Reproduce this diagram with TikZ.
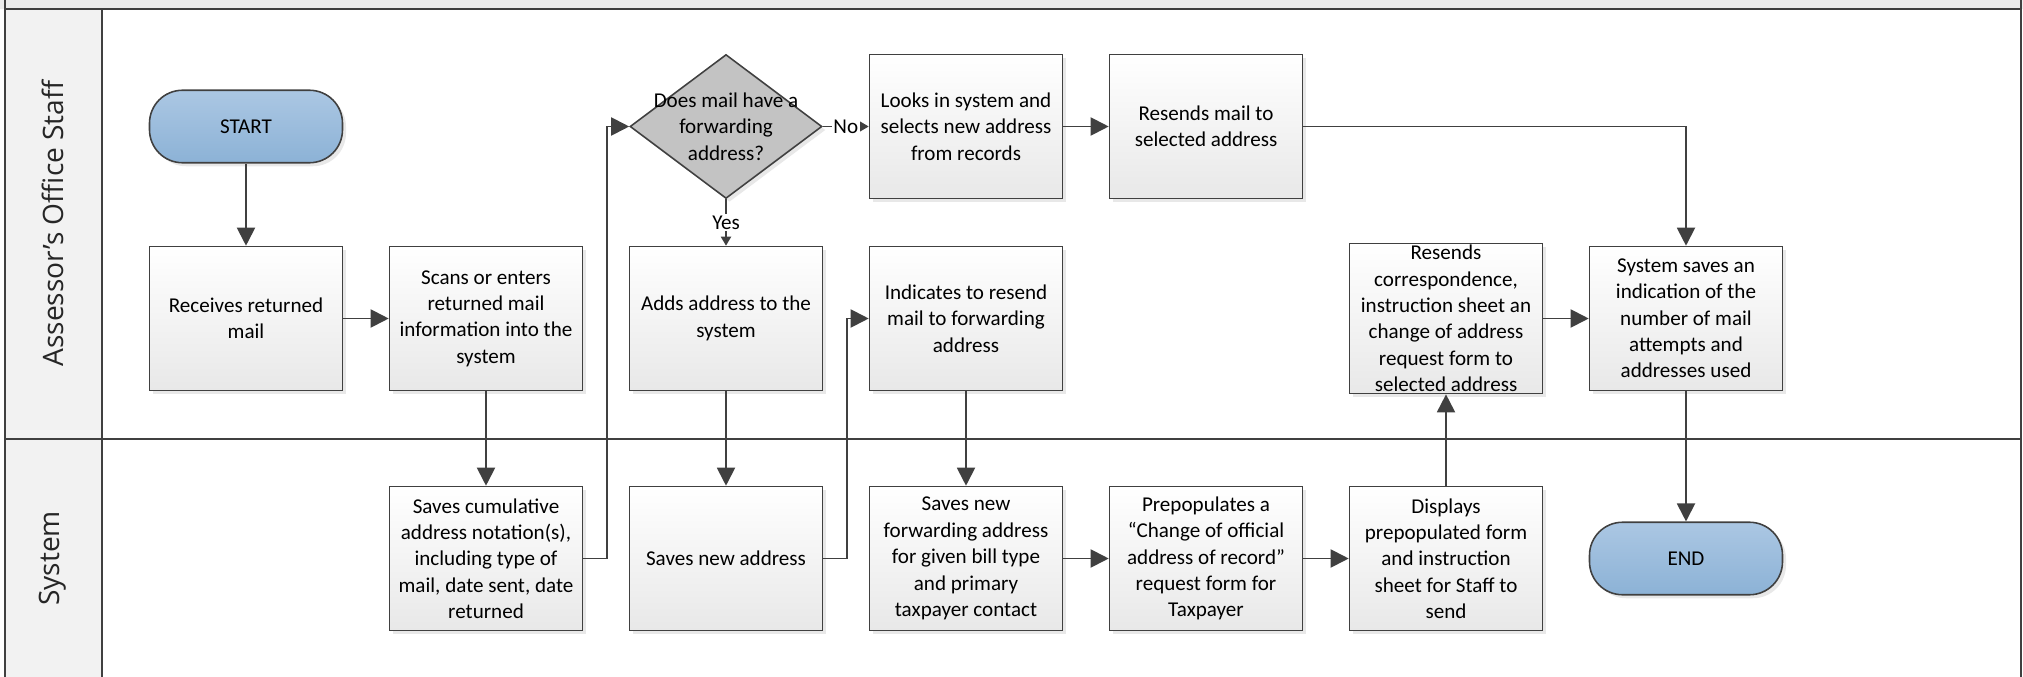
\documentclass[tikz,border=0pt]{standalone}
\usepackage{fontspec}
\setmainfont{Carlito}
\newfontfamily\lanefont{Open Sans}
\usepackage{tikz}
\usetikzlibrary{arrows.meta,shapes.geometric,shadows}

\definecolor{edge}{HTML}{404040}
\definecolor{lanebg}{HTML}{F2F2F2}
\definecolor{termtop}{HTML}{ABC7E3}
\definecolor{termbot}{HTML}{8CB2D6}
\definecolor{decfill}{HTML}{C3C3C3}

\begin{document}
\begin{tikzpicture}[
        font=\fontsize{12}{15}\selectfont,
        shade/.style={drop shadow={opacity=0.18, shadow xshift=0.07cm, shadow yshift=-0.07cm}},
        proc/.style={draw=edge, line width=0.9pt, top color=white, bottom color=black!9, shade,
            minimum width=3.86cm, minimum height=2.88cm, align=center, inner sep=1pt},
        term/.style={draw=edge, line width=0.9pt, top color=termtop, bottom color=termbot, shade,
            rounded corners=0.66cm, minimum width=3.86cm, minimum height=1.45cm},
        dec/.style={diamond, draw=edge, line width=0.9pt, fill=decfill, shade,
            minimum width=3.84cm, minimum height=2.88cm, inner sep=0pt},
        flow/.style={draw=edge, line width=1.1pt, -{Triangle[length=0.36cm,width=0.36cm]}},
        flowsmall/.style={draw=edge, line width=1.1pt, -{Triangle[length=0.18cm,width=0.2cm]}},
        lbl/.style={fill=white, inner sep=1pt, pos=0.5, anchor=center},
        lane/.style={font=\lanefont\fontsize{16}{19}\selectfont, text=black!85, rotate=90}]
        \useasboundingbox (0,0) rectangle (40.46,-13.54);
        \fill [black!7] (0,0) rectangle (40.46,-0.18);
        \fill [lanebg] (0.10,-0.18) rectangle (2.04,-13.54);
        \draw [edge, line width=1.1pt] (0.10,0) -- (0.10,-13.54);
        \draw [edge, line width=1.1pt] (40.42,0) -- (40.42,-13.54);
        \draw [edge, line width=1.1pt] (0.10,-0.18) -- (40.42,-0.18);
        \draw [edge, line width=1.1pt] (0.10,-8.78) -- (40.42,-8.78);
        \draw [edge, line width=1.1pt] (2.04,-0.18) -- (2.04,-13.54);
        \node [lane] (stafflane) at (1.05,-4.47) {Assessor’s Office Staff};
        \node [lane] (systemlane) at (1.05,-11.17) {System};

        \node [term] (start) at (4.92,-2.53) {START};
        \node [proc] (recv) at (4.92,-6.37) {Receives returned\\mail};
        \node [proc] (scan) at (9.72,-6.37) {Scans or enters\\returned mail\\information into the\\system};
        \node [dec, label={[align=center]center:Does mail have a\\forwarding\\address?}] (fwdq) at (14.52,-2.53) {};
        \node [proc] (lookup) at (19.32,-2.53) {Looks in system and\\selects new address\\from records};
        \node [proc] (resend) at (24.12,-2.53) {Resends mail to\\selected address};
        \node [proc] (addaddr) at (14.52,-6.37) {Adds address to the\\system};
        \node [proc] (indic) at (19.32,-6.37) {Indicates to resend\\mail to forwarding\\address};
        \node [proc] (corresp) at (28.92,-6.37) {Resends\\correspondence,\\instruction sheet an\\change of address\\request form to\\selected address};
        \node [proc] (attempts) at (33.72,-6.37) {System saves an\\indication of the\\number of mail\\attempts and\\addresses used};
        \node [proc] (savecum) at (9.72,-11.17) {Saves cumulative\\address notation(s),\\including type of\\mail, date sent, date\\returned};
        \node [proc] (savenew) at (14.52,-11.17) {Saves new address};
        \node [proc] (savefwd) at (19.32,-11.17) {Saves new\\forwarding address\\for given bill type\\and primary\\taxpayer contact};
        \node [proc] (prepop) at (24.12,-11.17) {Prepopulates a\\“Change of official\\address of record”\\request form for\\Taxpayer};
        \node [proc] (display) at (28.92,-11.17) {Displays\\prepopulated form\\and instruction\\sheet for Staff to\\send};
        \node [term] (stop) at (33.72,-11.17) {END};

        \draw [flow] (start) -- (recv);
        \draw [flow] (recv) -- (scan);
        \draw [flow] (scan) -- (savecum);
        \draw [flow] (savecum.east) -- ++(0.48,0) |- (fwdq.west);
        \draw [flowsmall] (fwdq.east) -- node [lbl] {No} (lookup.west);
        \draw [flowsmall] (fwdq.south) -- node [lbl] {Yes} (addaddr.north);
        \draw [flow] (lookup) -- (resend);
        \draw [flow] (resend.east) -| (attempts.north);
        \draw [flow] (addaddr) -- (savenew);
        \draw [flow] (savenew.east) -- ++(0.48,0) |- (indic.west);
        \draw [flow] (indic) -- (savefwd);
        \draw [flow] (savefwd) -- (prepop);
        \draw [flow] (prepop) -- (display);
        \draw [flow] (display) -- (corresp);
        \draw [flow] (corresp) -- (attempts);
        \draw [flow] (attempts) -- (stop);
\end{tikzpicture}
\end{document}
